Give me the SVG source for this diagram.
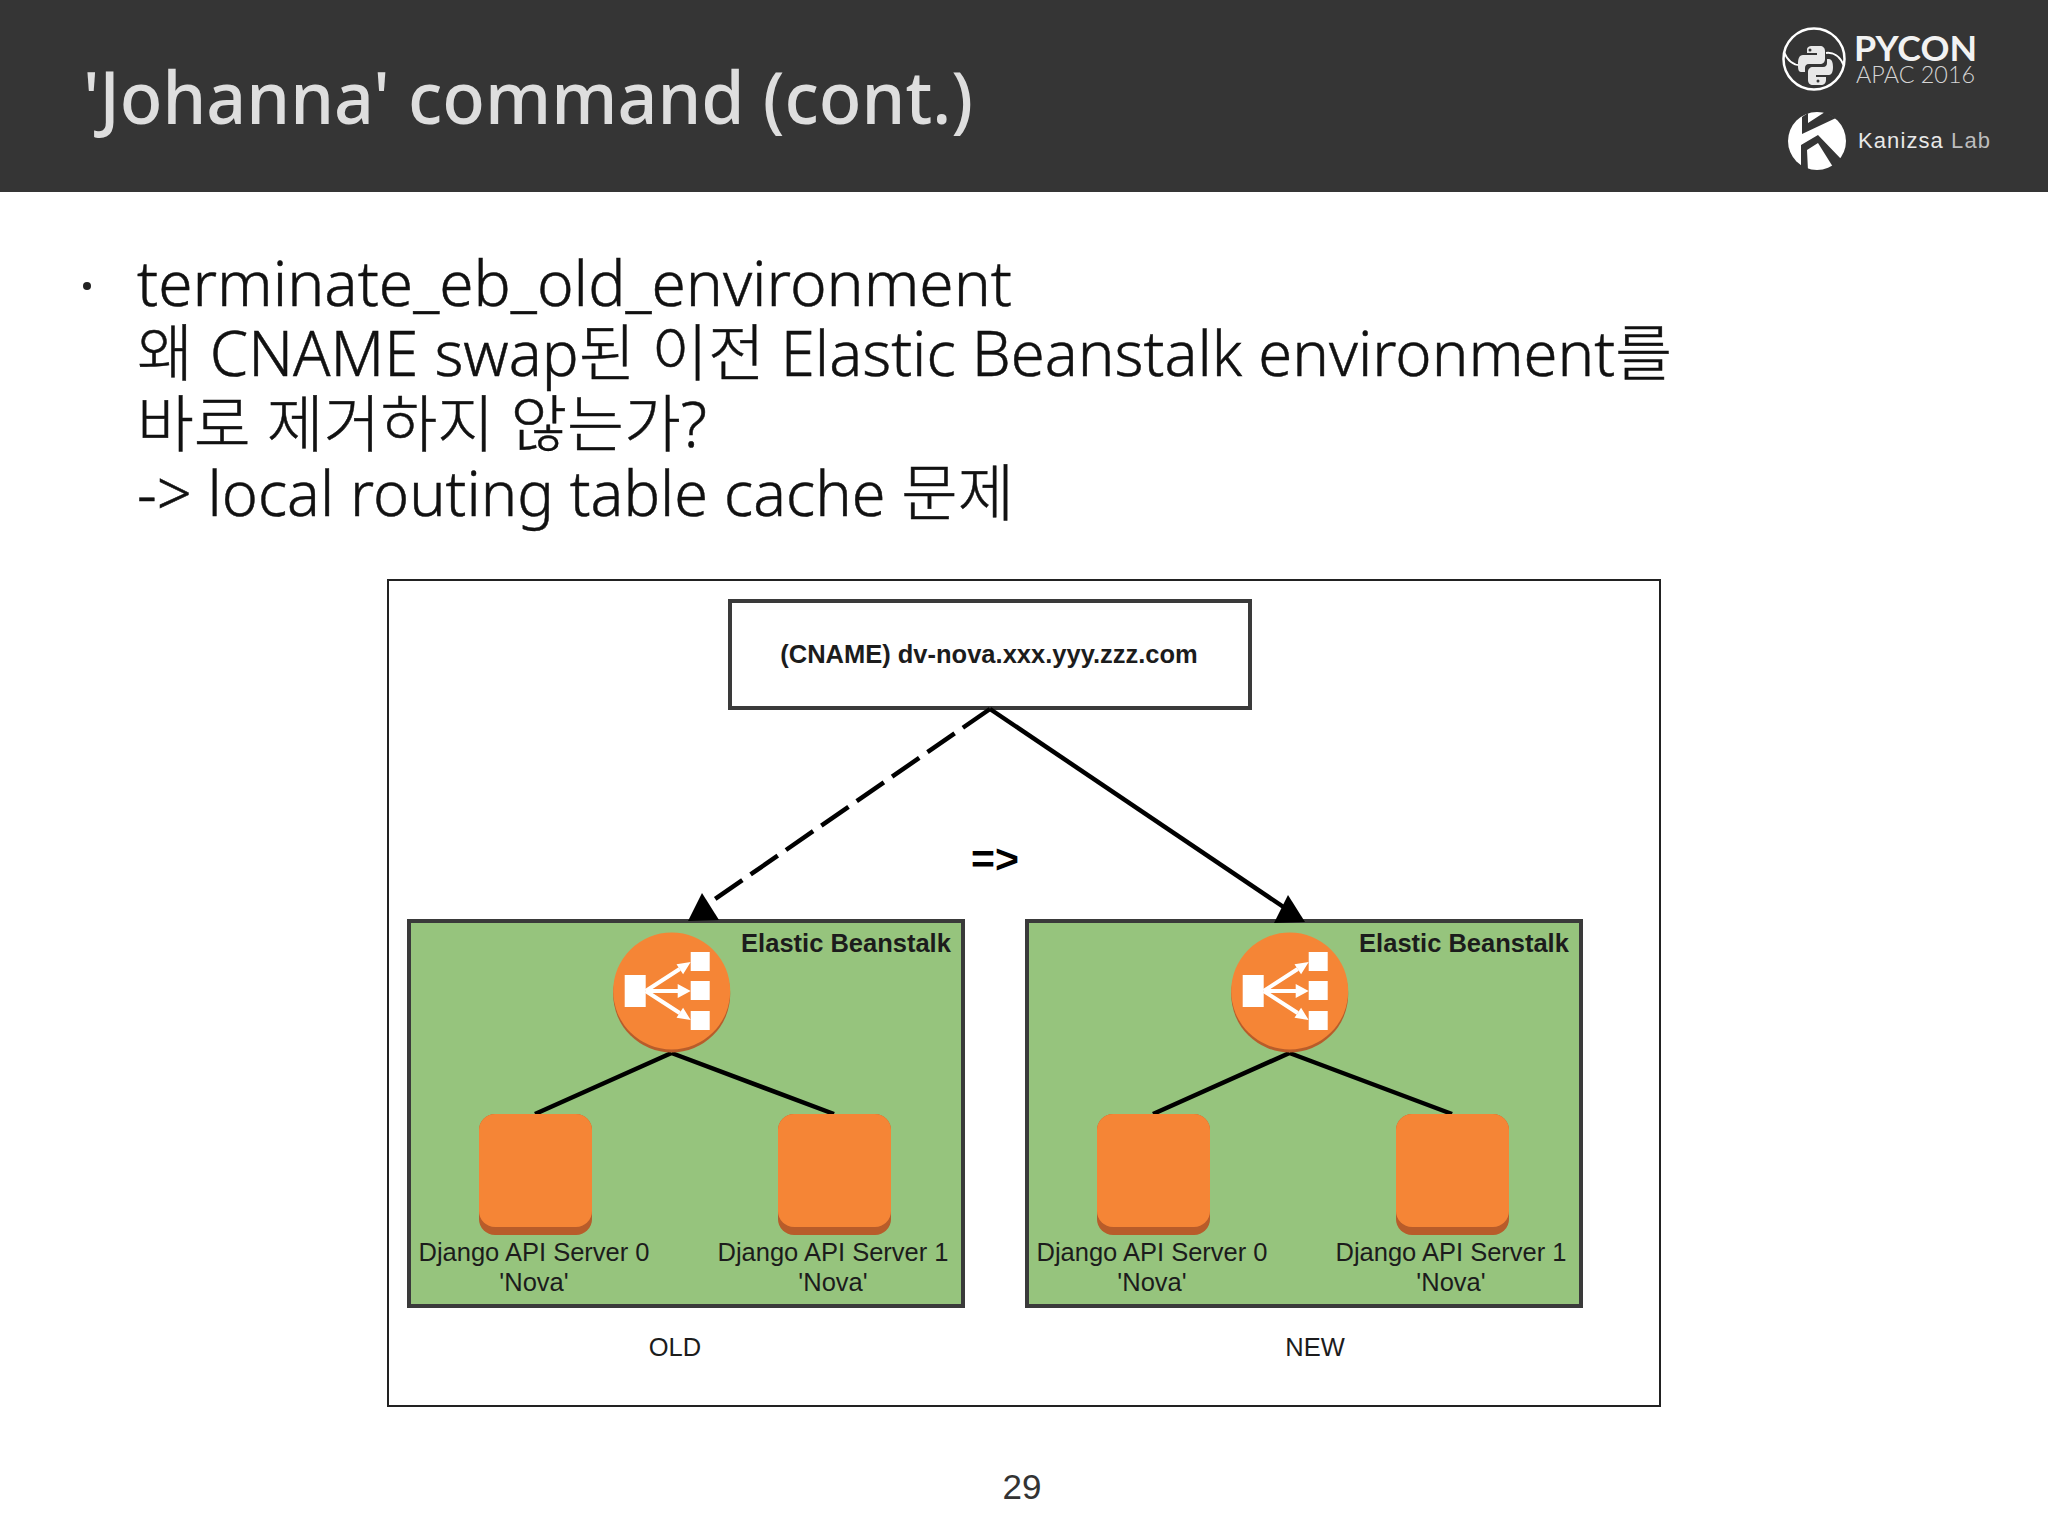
<svg xmlns="http://www.w3.org/2000/svg" width="2048" height="1536" viewBox="0 0 2048 1536">
<style>
.body{font-family:"Noto Sans","Noto Sans CJK KR",sans-serif;font-size:62px;font-weight:300;fill:#111;stroke:#111;stroke-width:.5px}
.lab{font-family:"Liberation Sans",Arial,sans-serif;font-size:25.5px;fill:#1c1c1c;text-anchor:middle}
.b{font-weight:700}
.panel{fill:#96c47d;stroke:#3a3a3a;stroke-width:4}
.conn{stroke:#000;stroke-width:4.5;fill:none}
.org{fill:#f58536}.dk{fill:#b85c2a}
.wh{fill:#fff}
.wl{stroke:#fff;stroke-width:4;fill:none}
</style>
<defs>
<marker id="tri" markerUnits="userSpaceOnUse" markerWidth="34" markerHeight="32" refX="15" refY="16" orient="0"><polygon points="15,1 1,29 32,28" fill="#000"/></marker>
<g id="elb">
<circle cx="0" cy="3" r="58.5" class="dk"/>
<circle cx="0" cy="0" r="58.5" class="org"/>
<rect x="-47" y="-16" width="21" height="32" class="wh"/>
<rect x="19" y="-39" width="19" height="19" class="wh"/>
<rect x="19" y="-10" width="19" height="19" class="wh"/>
<rect x="19" y="20" width="19" height="19" class="wh"/>
<path d="M-26 0L8-22M-26 0H8M-26 0L8 22" class="wl"/>
<path d="M19-29L4.800-26.800 11.400-16.800ZM19 0L6-7V7ZM19 29L11.400 16.800 4.800 26.800Z" class="wh"/>
</g>
<g id="srv">
<rect x="0" y="0" width="113" height="121" rx="16" class="dk"/>
<rect x="0" y="0" width="113" height="113" rx="16" class="org"/>
</g>
</defs>

<rect width="2048" height="1536" fill="#fff"/>
<g id="header">
<rect width="2048" height="192" fill="#353535"/>
<text x="83" y="124" font-family="Noto Sans, sans-serif" font-size="72" font-weight="500" fill="#dedede" textLength="890" lengthAdjust="spacingAndGlyphs">'Johanna' command (cont.)</text>
<g id="pycon-logo">
<circle cx="1814" cy="59" r="30.500" fill="none" stroke="#fff" stroke-width="2.500"/>
<path d="M1784 52C1788 62 1795 66 1803 65M1844 66C1840 56 1833 52 1826 53" fill="none" stroke="#fff" stroke-width="2"/>
<path d="M1812 46h8c3 0 5 2 5 5v8c0 3-2 5-5 5h-11c-3 0-4 2-4 4v4h-4c-3 0-3-4-3-8 0-5 1-9 5-9h14v-2h-10v-3c0-3 2-4 5-4z" fill="#e8e8e8"/>
<path d="M1827 59h2c3 0 4 4 4 8s-1 8-4 8h-13v2h10v3c0 3-2 5-5 5h-8c-3 0-5-2-5-5v-8c0-3 2-5 5-5h10c3 0 4-2 4-4z" fill="#e8e8e8"/>
<circle cx="1810" cy="50" r="1.500" fill="#353535"/>
<circle cx="1818" cy="81" r="1.500" fill="#353535"/>
<text x="1854" y="61" font-family="Lato, sans-serif" font-size="34" font-weight="700" fill="#f2f2f2" textLength="123" lengthAdjust="spacingAndGlyphs">PYCON</text>
<text x="1856" y="83" font-family="Lato, sans-serif" font-size="24" font-weight="300" fill="#d4d4d4" textLength="119" lengthAdjust="spacingAndGlyphs">APAC 2016</text>
</g>
<g id="kanizsa-logo">
<circle cx="1817" cy="141" r="29" fill="#fff"/>
<polygon points="1802,117 1808,113 1808,123 1825,112 1836,118 1802,134" fill="#353535"/>
<polygon points="1801,145 1818,135 1842,160 1833,167 1818,143 1807,150 1808,171 1801,167" fill="#353535"/>
<text x="1858" y="148" font-family="Liberation Sans, sans-serif" font-size="22" fill="#e8e8e8" textLength="132" lengthAdjust="spacing">Kanizsa <tspan fill="#bdbdbd">Lab</tspan></text>
</g>
</g>

<g id="bullets">
<circle cx="87" cy="286" r="4" fill="#222"/>
<text class="body" x="137" y="306" textLength="875" lengthAdjust="spacingAndGlyphs">terminate_eb_old_environment</text>
<text class="body" x="137" y="376" textLength="1535" lengthAdjust="spacingAndGlyphs">왜 CNAME swap된 이전 Elastic Beanstalk environment를</text>
<text class="body" x="137" y="447" textLength="570" lengthAdjust="spacingAndGlyphs">바로 제거하지 않는가?</text>
<text class="body" x="137" y="516" textLength="877" lengthAdjust="spacingAndGlyphs">-&gt; local routing table cache 문제</text>
</g>

<rect id="frame" x="388" y="580" width="1272" height="826" fill="#fff" stroke="#222" stroke-width="2"/>

<g id="cname">
<rect x="730" y="601" width="520" height="107" fill="#fff" stroke="#3a3a3a" stroke-width="4"/>
<text class="lab b" x="989" y="663">(CNAME) dv-nova.xxx.yyy.zzz.com</text>
</g>
<g id="panel-old">
<rect class="panel" x="409" y="921" width="554" height="385"/>
<text class="lab b" x="846" y="952">Elastic Beanstalk</text>
</g>
<g id="panel-new">
<rect class="panel" x="1027" y="921" width="554" height="385"/>
<text class="lab b" x="1464" y="952">Elastic Beanstalk</text>
</g>

<g id="connectors">
<path class="conn" d="M990 709L702 908" stroke-dasharray="33 10" marker-end="url(#tri)"/>
<path class="conn" d="M990 709L1288 910" marker-end="url(#tri)"/>
<path class="conn" d="M671.500 1053L535 1114M671.500 1053L834 1114"/>
<path class="conn" d="M1289.500 1053L1153 1114M1289.500 1053L1452 1114"/>
</g>

<g id="elb-old"><use href="#elb" x="671.700" y="991"/></g>
<g id="elb-new"><use href="#elb" x="1289.700" y="991"/></g>
<g id="server-old-0"><use href="#srv" x="479" y="1114"/><text class="lab" x="534" y="1261">Django API Server 0</text><text class="lab" x="534" y="1291">'Nova'</text></g>
<g id="server-old-1"><use href="#srv" x="778" y="1114"/><text class="lab" x="833" y="1261">Django API Server 1</text><text class="lab" x="833" y="1291">'Nova'</text></g>
<g id="server-new-0"><use href="#srv" x="1097" y="1114"/><text class="lab" x="1152" y="1261">Django API Server 0</text><text class="lab" x="1152" y="1291">'Nova'</text></g>
<g id="server-new-1"><use href="#srv" x="1396" y="1114"/><text class="lab" x="1451" y="1261">Django API Server 1</text><text class="lab" x="1451" y="1291">'Nova'</text></g>

<text class="lab b" x="995" y="873" style="font-size:41px;fill:#000">=&gt;</text>
<text class="lab" x="675" y="1356">OLD</text>
<text class="lab" x="1315" y="1356">NEW</text>
<text id="page" x="1022" y="1499" font-family="Liberation Sans, Arial, sans-serif" font-size="35" fill="#333" text-anchor="middle">29</text>
</svg>
